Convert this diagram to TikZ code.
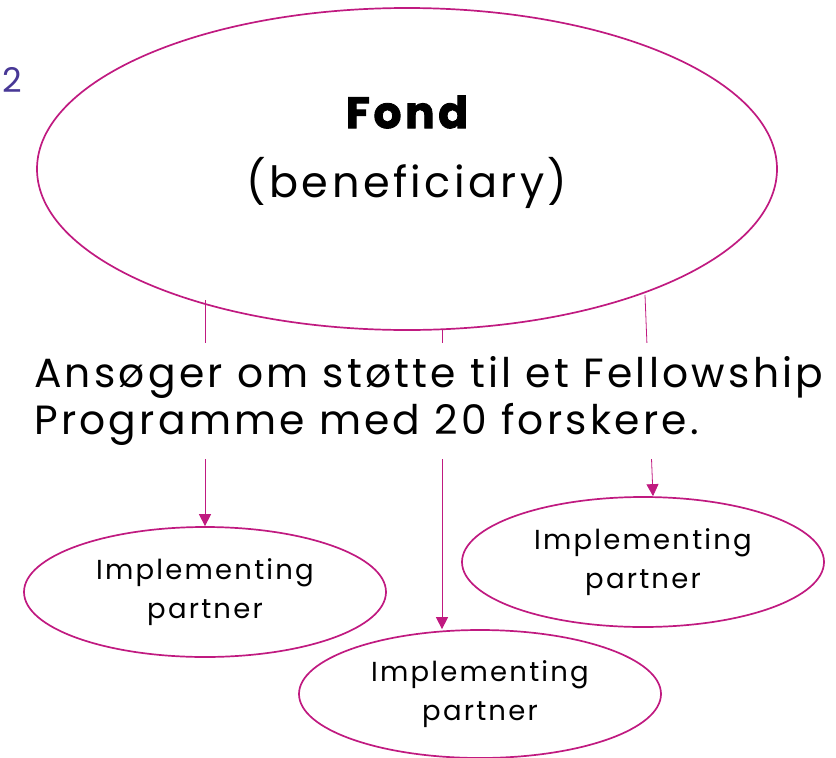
\documentclass[tikz,border=0pt]{standalone}
\usepackage{fontspec}
\setmainfont{Poppins}
\newfontfamily\widefont[LetterSpace=8,BoldFeatures={FakeBold=2}]{Poppins}
\usetikzlibrary{shapes.geometric,arrows.meta}
\definecolor{fondpink}{RGB}{192,26,128}
\definecolor{fondpurple}{RGB}{72,56,150}
\begin{document}
\begin{tikzpicture}[x=1pt,y=-1pt]

      \useasboundingbox (0,0) rectangle (836,758);

      \begin{scope}[every node/.style={ellipse,draw=fondpink,line width=1.7pt}]
        \node[minimum width=740pt,minimum height=322pt] (fond) at (407,169) {};
        \node[minimum width=362pt,minimum height=130pt] (p1) at (205,592) {};
        \node[minimum width=362pt,minimum height=130pt] (p2) at (643,562) {};
        \node[minimum width=362pt,minimum height=128pt] (p3) at (480,694) {};
      \end{scope}

      \coordinate (s1) at (205,300);
      \coordinate (s2) at (442,330);
      \coordinate (s3) at (645,295);

      \begin{scope}[every edge/.style={draw=fondpink,line width=0.8pt,-{Triangle[length=12pt,width=12pt]}}]
        \path (s1) edge (p1.north);
        \path (s2) edge ([xshift=-38pt]p3.north);
        \path (s3) edge ([xshift=10pt]p2.north);
      \end{scope}

      \node[fondpurple,font=\fontsize{34}{40}\selectfont] (num) at (12,80) {2};
      \node[font=\widefont\fontsize{44}{44}\selectfont\bfseries] (title) at (407,112) {Fond};
      \node[font=\widefont\fontsize{43}{44}\selectfont] (role) at (407,183) {(beneficiary)};

      \node[fill=white,align=left,inner xsep=8pt,inner ysep=13pt,anchor=west,
            font=\widefont\fontsize{40.8}{47}\selectfont] (apply) at (26,401)
            {Ansøger om støtte til et Fellowship\\Programme med 20 forskere.};

      \begin{scope}[every node/.style={align=center,font=\widefont\fontsize{27.5}{39}\selectfont}]
        \node (t1) at (p1) {Implementing\\partner};
        \node (t2) at (p2) {Implementing\\partner};
        \node (t3) at (p3) {Implementing\\partner};
      \end{scope}

    \end{tikzpicture}
\end{document}
